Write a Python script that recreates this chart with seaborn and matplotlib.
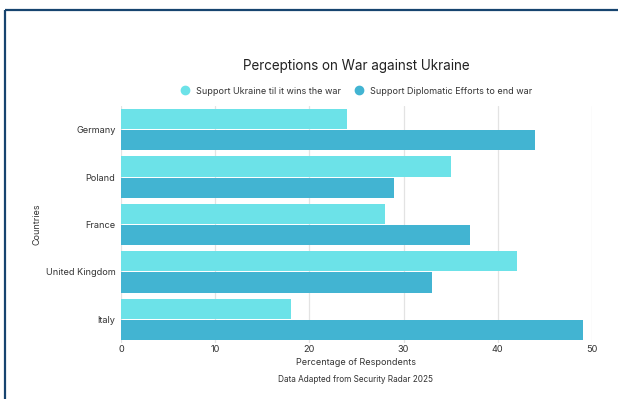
import matplotlib
matplotlib.use("Agg")
import matplotlib.pyplot as plt
from matplotlib.lines import Line2D
import seaborn as sns
import pandas as pd

countries = ["Germany", "Poland", "France", "United Kingdom", "Italy"]
support_ukraine = [24, 35, 28, 42, 18]
support_diplomacy = [44, 29, 37, 33, 49]
series_names = ["Support Ukraine til it wins the war", "Support Diplomatic Efforts to end war"]
x_ticks = [0, 10, 20, 30, 40, 50]

df = pd.DataFrame({
    "Country": countries * 2,
    "Value": support_ukraine + support_diplomacy,
    "Series": [series_names[0]] * len(countries) + [series_names[1]] * len(countries),
})

sns.set_theme(style="white")
plt.rcParams["font.family"] = ["Inter", "DejaVu Sans"]

colors = ["#6ce2e8", "#42b4d2"]

fig = plt.figure(figsize=(6.18, 3.99), dpi=100)
ax = fig.add_axes([121 / 618, 1 - 343 / 399, (592 - 121) / 618, (343 - 106) / 399])

sns.barplot(data=df, y="Country", x="Value", hue="Series", order=countries,
            hue_order=series_names, palette=colors, orient="h", width=0.9,
            gap=0.05, ax=ax, legend=False, edgecolor="none", saturation=1)

ax.set_xlim(0, 50)
ax.set_xticks(x_ticks)
ax.set_xticklabels([str(t) for t in x_ticks])
ax.xaxis.grid(True, color="#e3e3e3", linewidth=0.9)
ax.set_axisbelow(True)
for s in ax.spines.values():
    s.set_visible(False)
ax.tick_params(axis="y", length=0, labelsize=6.6, colors="#333333", pad=4)
ax.tick_params(axis="x", length=0, labelsize=6.6, colors="#333333", pad=1.5)
ax.set_xlabel("Percentage of Respondents", fontsize=6.5, color="#333333", labelpad=3)
ax.set_ylabel("Countries", fontsize=6.5, color="#333333", labelpad=3)

fig.text(356 / 618, 1 - 66 / 399, "Perceptions on War against Ukraine",
         ha="center", va="center", fontsize=9.7, color="#222222")
fig.text(356 / 618, 1 - 379 / 399, "Data Adapted from Security Radar 2025",
         ha="center", va="center", fontsize=5.9, color="#333333")

handles = [Line2D([], [], marker="o", linestyle="none", markersize=6,
                  markerfacecolor=c, markeredgecolor=c) for c in colors]
fig.legend(handles, series_names, loc="center", bbox_to_anchor=(354 / 618, 1 - 91 / 399),
           ncol=2, frameon=False, fontsize=6.5, handletextpad=0.2, columnspacing=1.0,
           labelcolor="#333333")

border = "#17446f"
fig.add_artist(Line2D([5 / 618, 1.0], [1 - 10 / 399, 1 - 10 / 399], transform=fig.transFigure,
                      color=border, linewidth=1.6, solid_capstyle="butt"))
fig.add_artist(Line2D([5 / 618, 5 / 618], [0.0, 1 - 10 / 399], transform=fig.transFigure,
                      color=border, linewidth=1.6, solid_capstyle="butt"))

fig.savefig("out.png", dpi=100, facecolor="white")
